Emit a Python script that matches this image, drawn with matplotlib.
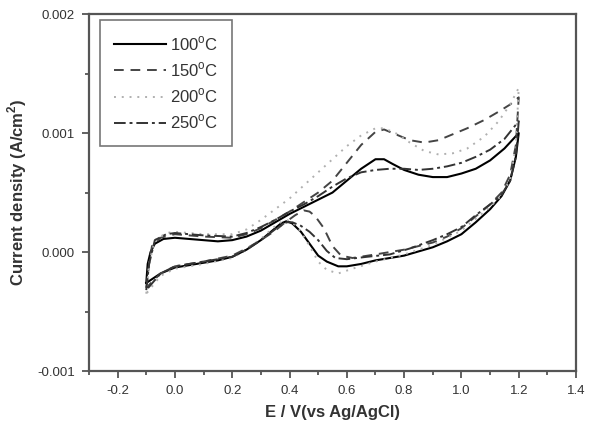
import numpy as np
import matplotlib
matplotlib.use("Agg")
import matplotlib.pyplot as plt
from matplotlib.ticker import MultipleLocator, FormatStrFormatter

plt.rcParams['font.family'] = ['Liberation Sans', 'DejaVu Sans']

# cyclic voltammograms: forward sweep -0.1 -> 1.2 V, then reverse 1.2 -> -0.1 V
e_100 = [-0.1, -0.095, -0.085, -0.07, -0.04, 0.0, 0.05, 0.1, 0.15, 0.2, 0.25, 0.3, 0.35, 0.4,
         0.45, 0.5, 0.55, 0.6, 0.65, 0.7, 0.73, 0.76, 0.8, 0.85, 0.9, 0.95, 1.0, 1.05, 1.1, 1.15, 1.2,
         1.19, 1.17, 1.14, 1.1, 1.05, 1.0, 0.95, 0.9, 0.8, 0.7, 0.65, 0.6, 0.57, 0.53, 0.5, 0.47,
         0.44, 0.41, 0.39, 0.37, 0.33, 0.3, 0.25, 0.2, 0.15, 0.1, 0.05, 0.0, -0.05, -0.1]
j_100 = [-0.00026, -0.0001, 0.0, 0.00007, 0.00011, 0.00012, 0.00011, 0.0001, 0.00009, 0.0001, 0.00013,
         0.00018, 0.00025, 0.00032, 0.00038, 0.00044, 0.0005, 0.0006, 0.0007, 0.00078, 0.00078, 0.00074,
         0.00069, 0.00065, 0.00063, 0.00063, 0.00066, 0.0007, 0.00077, 0.00087, 0.001,
         0.0008, 0.0006, 0.00047, 0.00036, 0.00025, 0.00015, 0.00009, 0.00004, -0.00003, -0.00007,
         -0.0001, -0.00012, -0.00012, -0.00008, -0.00003, 0.00007, 0.00017, 0.00024, 0.00026, 0.00024,
         0.00016, 0.0001, 0.00002, -0.00004, -0.00007, -0.00009, -0.00011, -0.00013, -0.00018, -0.00026]

e_150 = [-0.1, -0.09, -0.08, -0.05, 0.0, 0.1, 0.2, 0.25, 0.3, 0.35, 0.4, 0.45, 0.5, 0.55, 0.6, 0.65,
         0.7, 0.73, 0.77, 0.82, 0.87, 0.92, 0.97, 1.02, 1.08, 1.13, 1.17, 1.2,
         1.19, 1.17, 1.14, 1.1, 1.05, 1.0, 0.95, 0.9, 0.8, 0.7, 0.62, 0.58, 0.55, 0.52, 0.49, 0.47,
         0.45, 0.42, 0.38, 0.35, 0.3, 0.25, 0.2, 0.1, 0.0, -0.05, -0.1]
j_150 = [-0.0003, -0.0001, 0.00005, 0.00012, 0.00015, 0.00013, 0.00012, 0.00015, 0.0002, 0.00027,
         0.00034, 0.00042, 0.0005, 0.0006, 0.00075, 0.0009, 0.00101, 0.00103, 0.00099, 0.00094, 0.00092,
         0.00094, 0.00099, 0.00104, 0.00111, 0.00118, 0.00124, 0.0013,
         0.0009, 0.00065, 0.0005, 0.0004, 0.0003, 0.0002, 0.00013, 0.00008, 0.00002, -0.00002, -0.00005,
         -0.00003, 0.00005, 0.0002, 0.0003, 0.00034, 0.00035, 0.00031, 0.00024, 0.00018, 0.0001,
         0.00003, -0.00003, -0.00008, -0.00012, -0.00018, -0.0003]

e_200 = [-0.1, -0.09, -0.07, -0.03, 0.0, 0.1, 0.2, 0.25, 0.3, 0.35, 0.4, 0.45, 0.5, 0.55, 0.6, 0.65,
         0.7, 0.73, 0.77, 0.82, 0.87, 0.92, 0.97, 1.02, 1.08, 1.13, 1.17, 1.2,
         1.19, 1.17, 1.13, 1.1, 1.05, 1.0, 0.9, 0.8, 0.7, 0.62, 0.57, 0.53, 0.5, 0.47, 0.44, 0.41,
         0.39, 0.36, 0.3, 0.25, 0.2, 0.1, 0.0, -0.05, -0.1]
j_200 = [-0.00035, -0.0001, 0.0001, 0.00016, 0.00017, 0.00015, 0.00015, 0.00019, 0.00027, 0.00036,
         0.00045, 0.00056, 0.00067, 0.00078, 0.00089, 0.00098, 0.00104, 0.00104, 0.001, 0.00092, 0.00085,
         0.00082, 0.00083, 0.00087, 0.00097, 0.0011, 0.00124, 0.00138,
         0.0009, 0.0006, 0.00045, 0.00038, 0.00028, 0.00018, 0.00006, -0.00002, -0.00008, -0.00014,
         -0.00018, -0.00015, -0.00008, 0.00005, 0.00017, 0.00025, 0.00027, 0.00024, 0.00011, 0.00002,
         -0.00005, -0.0001, -0.00014, -0.0002, -0.00035]

e_250 = [-0.1, -0.09, -0.07, -0.03, 0.0, 0.1, 0.2, 0.25, 0.3, 0.35, 0.4, 0.45, 0.5, 0.55, 0.6, 0.65,
         0.7, 0.75, 0.8, 0.85, 0.9, 0.95, 1.0, 1.05, 1.1, 1.15, 1.2,
         1.19, 1.17, 1.14, 1.1, 1.05, 1.0, 0.95, 0.9, 0.82, 0.75, 0.67, 0.6, 0.56, 0.53, 0.5, 0.47,
         0.44, 0.41, 0.39, 0.36, 0.3, 0.25, 0.2, 0.1, 0.0, -0.05, -0.1]
j_250 = [-0.00032, -0.0001, 0.0001, 0.00015, 0.00016, 0.00014, 0.00013, 0.00016, 0.00021, 0.00027,
         0.00034, 0.0004, 0.00047, 0.00055, 0.00062, 0.00067, 0.00069, 0.0007, 0.0007, 0.00069, 0.0007,
         0.00072, 0.00075, 0.0008, 0.00086, 0.00095, 0.0011,
         0.0008, 0.0006, 0.00048, 0.0004, 0.00031, 0.00021, 0.00015, 0.0001, 0.00003, -0.00002,
         -0.00004, -0.00006, -0.00005, 0.00001, 0.0001, 0.00017, 0.00022, 0.00025, 0.00025, 0.00021,
         0.0001, 0.00002, -0.00004, -0.00008, -0.00012, -0.00018, -0.00032]

labels = ['100$^{\\mathregular{o}}$C', '150$^{\\mathregular{o}}$C',
          '200$^{\\mathregular{o}}$C', '250$^{\\mathregular{o}}$C']

fig = plt.figure(figsize=(5.89, 4.26), dpi=100)
ax = fig.add_axes([0.151, 0.129, 0.827, 0.838])

ax.plot(e_100, j_100, color='black', lw=1.5, ls='-', label=labels[0])
ax.plot(e_150, j_150, color='#444444', lw=1.4, ls=(0, (5, 3.5)), label=labels[1])
ax.plot(e_200, j_200, color='#b0b0b0', lw=1.4, ls=(0, (1, 3)), label=labels[2])
ax.plot(e_250, j_250, color='#333333', lw=1.4, ls=(0, (6, 2, 1.5, 2)), label=labels[3])

ax.set_xlim(-0.3, 1.4)
ax.set_ylim(-0.001, 0.002)
ax.xaxis.set_major_locator(MultipleLocator(0.2))
ax.xaxis.set_minor_locator(MultipleLocator(0.1))
ax.yaxis.set_major_locator(MultipleLocator(0.001))
ax.yaxis.set_minor_locator(MultipleLocator(0.0005))
ax.xaxis.set_major_formatter(FormatStrFormatter('%.1f'))
ax.yaxis.set_major_formatter(FormatStrFormatter('%.3f'))

for s in ax.spines.values():
    s.set_linewidth(1.6)
    s.set_color('#555555')
ax.tick_params(which='both', direction='out', top=False, right=False,
               color='#555555', width=1.3, labelsize=9.5, labelcolor='#333333')
ax.tick_params(which='major', length=5, pad=5)
ax.tick_params(which='minor', length=3)

ax.set_xlabel('E / V(vs Ag/AgCl)', fontsize=12, fontweight='bold', color='#333333', labelpad=6)
ax.set_ylabel('Current density (A/cm$^\\mathregular{2}$)', fontsize=12, fontweight='bold',
              color='#333333', labelpad=6)

leg = ax.legend(loc='upper left', bbox_to_anchor=(0.0225, 0.983), borderaxespad=0, fontsize=12,
                handlelength=3.1, frameon=True, fancybox=False, borderpad=0.85, labelspacing=0.45,
                handletextpad=0.25)
leg.get_frame().set_edgecolor('#555555')
leg.get_frame().set_linewidth(1.2)
for t in leg.get_texts():
    t.set_color('#333333')

fig.savefig('out.png', dpi=100)
